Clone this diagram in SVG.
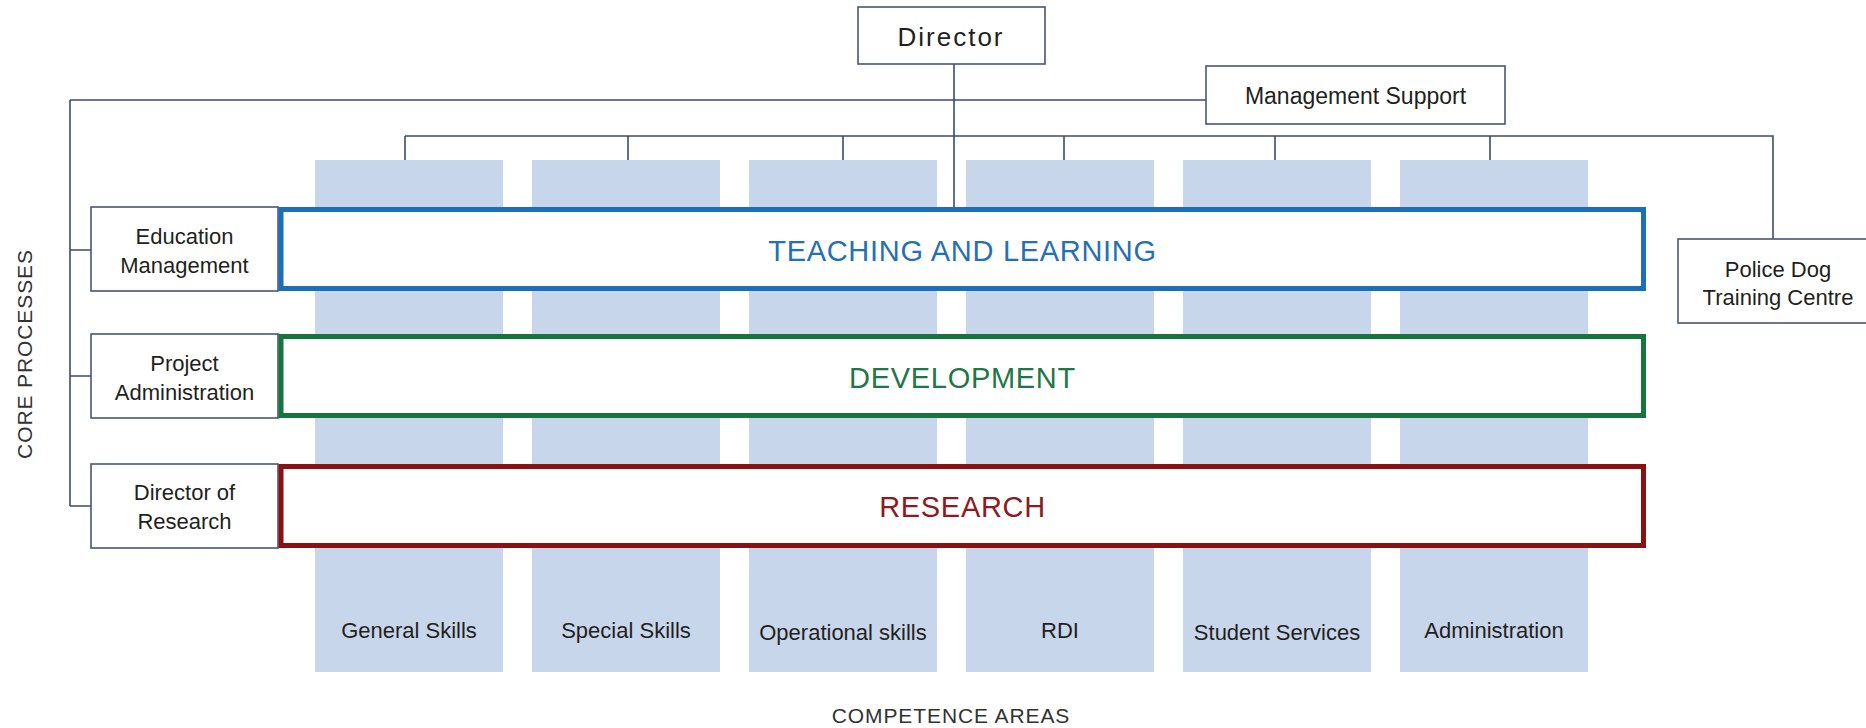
<svg xmlns="http://www.w3.org/2000/svg" width="1866" height="728" viewBox="0 0 1866 728">
<style>
.bg{fill:#ffffff}
.col{fill:#c8d6ec}
.box{fill:#ffffff;stroke:#4a5672;stroke-width:1.6}
.conn{fill:none;stroke:#3d4b6b;stroke-width:1.6}
.t{font-family:"Liberation Sans",Arial,sans-serif;fill:#231f20;text-anchor:middle}
.n{font-size:22px}
.big{font-size:29px;letter-spacing:0.7px}
.cap{font-size:21px;letter-spacing:0.9px;fill:#333333}
</style>
<rect class="bg" x="0" y="0" width="1866" height="728"/>
<g id="competence-columns">
<rect class="col" x="315" y="160" width="188" height="512"/>
<rect class="col" x="532" y="160" width="188" height="512"/>
<rect class="col" x="749" y="160" width="188" height="512"/>
<rect class="col" x="966" y="160" width="188" height="512"/>
<rect class="col" x="1183" y="160" width="188" height="512"/>
<rect class="col" x="1400" y="160" width="188" height="512"/>
</g>
<g id="connectors">
<path class="conn" d="M954 64V207"/>
<path class="conn" d="M70 100H1206"/>
<path class="conn" d="M70 100V506"/>
<path class="conn" d="M70 250H91M70 376H91M70 506H91"/>
<path class="conn" d="M405 136H1773V239"/>
<path class="conn" d="M405 136V160M628 136V160M843 136V160M1064 136V160M1275 136V160M1490 136V160"/>
</g>
<g id="director">
<rect class="box" x="858" y="7" width="187" height="57"/>
<text class="t" x="951" y="46" font-size="26" letter-spacing="2">Director</text>
</g>
<g id="management-support">
<rect class="box" x="1206" y="66" width="299" height="58"/>
<text class="t" x="1355.5" y="104" font-size="23">Management Support</text>
</g>
<g id="police-dog">
<rect class="box" x="1678" y="239" width="200" height="84"/>
<text class="t n" x="1778" y="277">Police Dog</text>
<text class="t n" x="1778" y="305">Training Centre</text>
</g>
<g id="education-management">
<rect class="box" x="91" y="207" width="187" height="84"/>
<text class="t n" x="184.5" y="244">Education</text>
<text class="t n" x="184.5" y="273">Management</text>
</g>
<g id="project-administration">
<rect class="box" x="91" y="334" width="187" height="84"/>
<text class="t n" x="184.5" y="371">Project</text>
<text class="t n" x="184.5" y="400">Administration</text>
</g>
<g id="director-of-research">
<rect class="box" x="91" y="464" width="187" height="84"/>
<text class="t n" x="184.5" y="500">Director of</text>
<text class="t n" x="184.5" y="529">Research</text>
</g>
<g id="teaching-and-learning">
<rect x="281" y="209.5" width="1362.5" height="79" fill="#ffffff" stroke="#1a6fb6" stroke-width="5"/>
<text class="t big" x="962.5" y="261" fill="#2470b3" style="fill:#2470b3">TEACHING AND LEARNING</text>
</g>
<g id="development">
<rect x="281" y="336.5" width="1362.5" height="79" fill="#ffffff" stroke="#17743f" stroke-width="5"/>
<text class="t big" x="962.5" y="388" style="fill:#1f7647">DEVELOPMENT</text>
</g>
<g id="research">
<rect x="281" y="466.5" width="1362.5" height="79" fill="#ffffff" stroke="#8a1012" stroke-width="5"/>
<text class="t big" x="962.5" y="517" style="fill:#8c1a1f">RESEARCH</text>
</g>
<g id="column-labels">
<text class="t n" x="409" y="638">General Skills</text>
<text class="t n" x="626" y="638">Special Skills</text>
<text class="t n" x="843" y="640">Operational skills</text>
<text class="t n" x="1060" y="638">RDI</text>
<text class="t n" x="1277" y="640">Student Services</text>
<text class="t n" x="1494" y="638">Administration</text>
</g>
<g id="axis-labels">
<text class="t cap" x="951" y="723">COMPETENCE AREAS</text>
<text class="t cap" x="0" y="0" letter-spacing="0.2" transform="translate(32 354) rotate(-90)">CORE PROCESSES</text>
</g>
</svg>
